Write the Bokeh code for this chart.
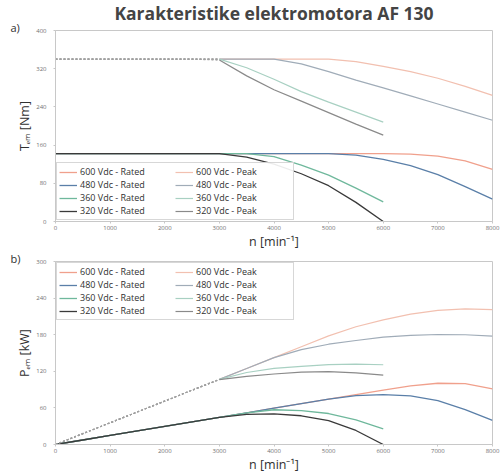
from bokeh.plotting import figure
from bokeh.models import Range1d, Legend, LegendItem, Title, FixedTicker
from bokeh.layouts import column
from bokeh.embed import file_html
from bokeh.resources import INLINE

# ---- data ----
n_long = [0, 500, 1000, 1500, 2000, 2500, 3000, 3500, 4000, 4500, 5000, 5500, 6000, 6500, 7000, 7500, 8000]
n_short = [0, 500, 1000, 1500, 2000, 2500, 3000, 3500, 4000, 4500, 5000, 5500, 6000]

# torque [Nm]
T_600_rated = [142, 142, 142, 142, 142, 142, 142, 142, 142, 142, 142, 142, 142, 141, 137, 127, 109]
T_480_rated = [142, 142, 142, 142, 142, 142, 142, 142, 142, 142, 142, 139, 130, 117, 98, 73, 47]
T_360_rated = [142, 142, 142, 142, 142, 142, 142, 142, 136, 118, 97, 70, 41]
T_320_rated = [142, 142, 142, 142, 142, 142, 142, 135, 120, 100, 75, 40, 0]
T_600_peak = [340, 340, 340, 340, 340, 340, 340, 340, 340, 340, 340, 335, 325, 314, 300, 283, 264]
T_480_peak = [340, 340, 340, 340, 340, 340, 340, 340, 340, 330, 314, 296, 280, 263, 246, 229, 212]
T_360_peak = [340, 340, 340, 340, 340, 340, 340, 322, 298, 272, 250, 229, 208]
T_320_peak = [340, 340, 340, 340, 340, 340, 338, 305, 276, 252, 228, 204, 181]

# power [kW]
P_600_rated = [0, 7.4, 14.9, 22.3, 29.7, 37.2, 44.6, 52.0, 59.5, 66.9, 74.4, 81.8, 89.2, 96.0, 100.4, 99.7, 91.3]
P_480_rated = [0, 7.4, 14.9, 22.3, 29.7, 37.2, 44.6, 52.0, 59.5, 66.9, 74.4, 80.1, 81.7, 79.6, 71.8, 57.3, 39.4]
P_360_rated = [0, 7.4, 14.9, 22.3, 29.7, 37.2, 44.6, 52.0, 57.0, 55.6, 50.8, 40.3, 25.8]
P_320_rated = [0, 7.4, 14.9, 22.3, 29.7, 37.2, 44.6, 49.5, 50.3, 47.1, 39.3, 23.0, 0]
P_600_peak = [0, 17.8, 35.6, 53.4, 71.2, 89.0, 106.8, 124.6, 142.4, 160.2, 178.0, 193.0, 204.2, 213.7, 219.9, 222.3, 221.2]
P_480_peak = [0, 17.8, 35.6, 53.4, 71.2, 89.0, 106.8, 124.6, 142.4, 155.5, 164.4, 170.5, 175.9, 179.0, 180.3, 179.9, 177.6]
P_360_peak = [0, 17.8, 35.6, 53.4, 71.2, 89.0, 106.8, 118.0, 124.8, 128.2, 130.9, 131.9, 130.7]
P_320_peak = [0, 17.8, 35.6, 53.4, 71.2, 89.0, 106.2, 111.8, 115.6, 118.8, 119.4, 117.5, 113.7]

labels_rated = ["600 Vdc - Rated", "480 Vdc - Rated", "360 Vdc - Rated", "320 Vdc - Rated"]
labels_peak = ["600 Vdc - Peak", "480 Vdc - Peak", "360 Vdc - Peak", "320 Vdc - Peak"]

x_ticks = [0, 1000, 2000, 3000, 4000, 5000, 6000, 7000, 8000]
y_ticks_T = [0, 80, 160, 240, 320, 400]
y_ticks_P = [0, 60, 120, 180, 240, 300]

title_text = "Karakteristike elektromotora AF 130"
x_label = "n [min\u207b\u00b9]"

# ---- styles ----
FONT = "Open Sans"
rated_colors = ["#f0a08c", "#5a7fa8", "#6fb89c", "#3a3a3a"]
peak_colors = ["#f2c0b0", "#a0acb8", "#a8d0c2", "#8a8a8a"]
SPLIT = 7  # common plateau points of the peak curves drawn dotted


def style(p, y_ticks, ylab):
    p.outline_line_color = "#c8c8c8"
    p.xgrid.visible = False
    p.ygrid.visible = False
    p.xaxis.ticker = FixedTicker(ticks=x_ticks)
    p.yaxis.ticker = FixedTicker(ticks=y_ticks)
    for ax in (p.xaxis[0], p.yaxis[0]):
        ax.axis_line_color = "#c8c8c8"
        ax.major_tick_line_color = "#c8c8c8"
        ax.major_tick_out = 2
        ax.major_tick_in = 0
        ax.minor_tick_line_color = None
        ax.major_label_text_font = FONT
        ax.major_label_text_font_size = "6px"
        ax.major_label_text_color = "#707070"
        ax.axis_label_text_font = FONT
        ax.axis_label_text_font_style = "normal"
        ax.axis_label_text_color = "#303030"
        ax.axis_label_text_font_size = "12.5px"
    p.xaxis.axis_label = x_label
    p.xaxis.axis_label_standoff = 0
    p.xaxis.major_label_standoff = 2
    p.yaxis.axis_label = ylab
    p.yaxis.axis_label_standoff = 0
    p.yaxis.major_label_standoff = 7


def add_lines(p, rated, peak, ns):
    items_r, items_p = [], []
    for i in range(4):
        r = p.line(ns[i], rated[i], line_color=rated_colors[i], line_width=1.3)
        items_r.append(LegendItem(label=labels_rated[i], renderers=[r]))
    for i in range(4):
        p.line(ns[i][:SPLIT], peak[i][:SPLIT], line_color="#a0a0a0", line_width=1.2, line_dash="2 2")
        r = p.line(ns[i][SPLIT - 1:], peak[i][SPLIT - 1:], line_color=peak_colors[i], line_width=1.2)
        items_p.append(LegendItem(label=labels_peak[i], renderers=[r]))
    return items_r + items_p


def make_legend(items, loc):
    lg = Legend(items=items, location=loc, orientation="vertical", nrows=4,
                label_text_font=FONT, label_text_font_size="9px", label_text_color="#303030",
                glyph_width=18, glyph_height=8, label_height=9, label_width=95,
                label_standoff=3, spacing=-2, padding=2, margin=1,
                border_line_color="#b0b0b0", background_fill_alpha=0.9)
    return lg


def side_title(text, standoff):
    return Title(text=text, align="left", offset=-45, standoff=standoff,
                 text_font=FONT, text_font_size="11px", text_font_style="normal",
                 text_color="#303030")


ns_set = [n_long, n_long, n_short, n_short]

# ---- figure a ----
p1 = figure(width=500, height=252, output_backend="svg", toolbar_location=None,
            x_range=Range1d(0, 8000), y_range=Range1d(0, 400),
            min_border_left=55, min_border_right=8, min_border_top=0, min_border_bottom=27)
p1.title.text = title_text
p1.title.text_font = FONT
p1.title.text_font_size = "17.5px"
p1.title.text_font_style = "bold"
p1.title.align = "center"
p1.title.offset = 14
p1.title.standoff = -4
p1.add_layout(side_title("a)", -9), "above")
style(p1, y_ticks_T, "T\u2091\u2098 [Nm]")
items1 = add_lines(p1, [T_600_rated, T_480_rated, T_360_rated, T_320_rated],
                   [T_600_peak, T_480_peak, T_360_peak, T_320_peak], ns_set)
p1.add_layout(make_legend(items1, "bottom_left"))

# ---- figure b ----
p2 = figure(width=500, height=224, output_backend="svg", toolbar_location=None,
            x_range=Range1d(0, 8000), y_range=Range1d(0, 300),
            min_border_left=55, min_border_right=8, min_border_top=0, min_border_bottom=32)
p2.title = side_title("b)", -8)
style(p2, y_ticks_P, "P\u2091\u2098 [kW]")
items2 = add_lines(p2, [P_600_rated, P_480_rated, P_360_rated, P_320_rated],
                   [P_600_peak, P_480_peak, P_360_peak, P_320_peak], ns_set)
p2.add_layout(make_legend(items2, "top_left"))

layout = column(p1, p2, spacing=0)
open("out.html", "w").write(file_html(layout, INLINE))
